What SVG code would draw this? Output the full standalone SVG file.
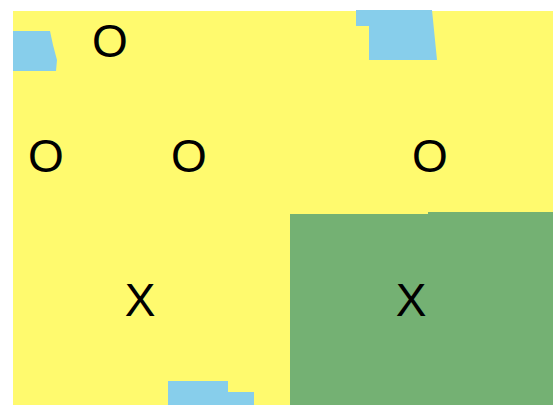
<svg xmlns="http://www.w3.org/2000/svg" width="553" height="407" viewBox="0 0 553 407">
<style>
.yellow{fill:#fffa6e}
.water{fill:#87ceeb}
.green{fill:#74b173}
.lbl{font-family:"Liberation Sans",Arial,sans-serif;font-size:46px;fill:#000;text-anchor:middle}
</style>
<rect width="553" height="407" fill="#ffffff"/>
<rect class="yellow" x="13" y="11" width="540" height="394"/>
<polygon class="water" points="13,31 50,31 53,45 57,60 56,71 13,71"/>
<polygon class="water" points="356,10 432,10 437,60 369,60 369,26 356,26"/>
<polygon class="water" points="168,381 228,381 228,392 254,392 254,405 168,405"/>
<polygon class="green" points="290,214 428,214 428,212 553,212 553,405 290,405"/>
<g id="labels">
<text class="lbl" x="110" y="57">O</text>
<text class="lbl" x="46" y="172">O</text>
<text class="lbl" x="189" y="172">O</text>
<text class="lbl" x="430" y="172">O</text>
<text class="lbl" x="140" y="316">X</text>
<text class="lbl" x="411" y="316">X</text>
</g>
</svg>
